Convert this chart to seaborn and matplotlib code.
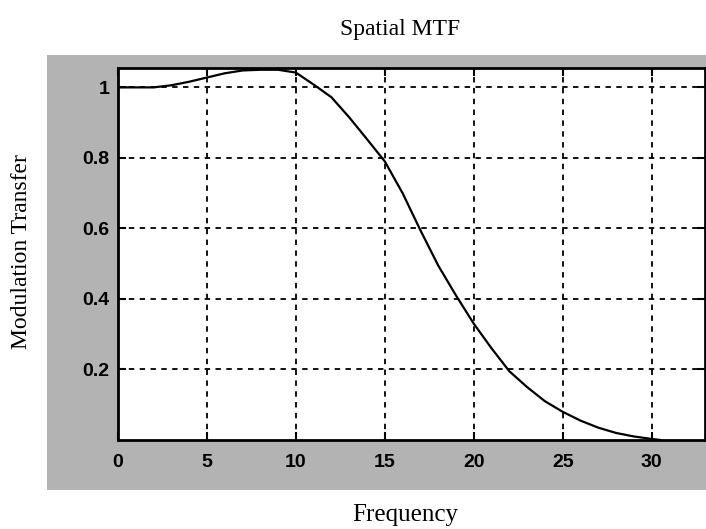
import matplotlib
matplotlib.use("Agg")
import matplotlib.pyplot as plt
import seaborn as sns
import pandas as pd
from matplotlib.patches import Rectangle

# Data
frequency = [0, 1, 2, 3, 4, 5, 6, 7, 8, 9, 10, 11, 12, 13, 14, 15, 16, 17,
             18, 19, 20, 21, 22, 23, 24, 25, 26, 27, 28, 29, 30, 30.5]
mtf = [1.0, 1.0, 1.0, 1.006, 1.016, 1.028, 1.04, 1.048, 1.05, 1.05, 1.042,
       1.008, 0.972, 0.915, 0.853, 0.79, 0.70, 0.595, 0.495, 0.41, 0.33, 0.26,
       0.195, 0.15, 0.11, 0.08, 0.055, 0.035, 0.02, 0.01, 0.003, 0.0]
x_ticks = [0, 5, 10, 15, 20, 25, 30]
y_ticks = [0.2, 0.4, 0.6, 0.8, 1.0]
y_tick_labels = ["0.2", "0.4", "0.6", "0.8", "1"]

df = pd.DataFrame({"Frequency": frequency, "MTF": mtf})

sns.set_style("white")
plt.rcParams["font.family"] = ["Liberation Serif", "DejaVu Serif"]
plt.rcParams["text.color"] = "black"

fig = plt.figure(figsize=(7.06, 5.29), dpi=100)
fig.patch.set_facecolor("white")

# grey MATLAB-like figure background area
fig.patches.append(Rectangle((47 / 706, 1 - 490 / 529), (706 - 47) / 706, (490 - 55) / 529,
                             transform=fig.transFigure, facecolor="#b3b3b3",
                             edgecolor="none", zorder=-10))

ax = fig.add_axes([118 / 706, 1 - 440 / 529, (705 - 118) / 706, (440 - 68) / 529])
ax.set_zorder(5)
ax.set_facecolor("white")

sns.lineplot(data=df, x="Frequency", y="MTF", ax=ax, color="black", linewidth=1.6)

ax.set_xlim(0, 33.0)
ax.set_ylim(0, 1.055)
ax.set_xticks(x_ticks)
ax.set_yticks(y_ticks)
ax.set_yticklabels(y_tick_labels)
ax.set_xlabel("")
ax.set_ylabel("")

ax.grid(True, color="black", linestyle=(0, (3, 3)), linewidth=1.3)
ax.set_axisbelow(True)

for s in ax.spines.values():
    s.set_visible(True)
    s.set_color("black")
    s.set_linewidth(2.0)

ax.tick_params(direction="in", length=6, width=1.5, top=True, right=True,
               left=True, bottom=True, colors="black", labelcolor="black")
for lab in ax.get_xticklabels() + ax.get_yticklabels():
    lab.set_fontfamily(["Liberation Sans", "DejaVu Sans"])
    lab.set_fontweight("bold")
    lab.set_fontsize(14)
ax.tick_params(axis="x", pad=10)
ax.tick_params(axis="y", pad=6)

fig.text(400 / 706, 1 - 30 / 529, "Spatial MTF", ha="center", va="center",
         fontsize=17, color="black")
fig.text(405 / 706, 1 - 515 / 529, "Frequency", ha="center", va="center",
         fontsize=18, color="black")
fig.text(22 / 706, 1 - 252 / 529, "Modulation Transfer", ha="center", va="center",
         rotation=90, fontsize=17, color="black")

fig.savefig("out.png", dpi=100, facecolor="white")
